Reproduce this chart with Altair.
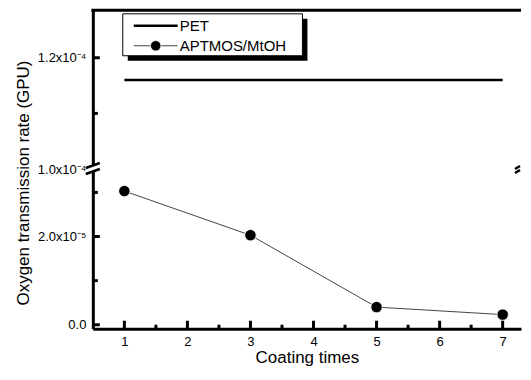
import altair as alt
import pandas as pd

# ---- data ----
coating_times = [1, 3, 5, 7]
aptmos_otr = [3.03e-5, 2.03e-5, 0.40e-5, 0.23e-5]
pet_x = [1, 7]
pet_otr = [1.16e-4, 1.16e-4]
series_names = ["PET", "APTMOS/MtOH"]

x_major = [1, 2, 3, 4, 5, 6, 7]
x_minor = [1.5, 2.5, 3.5, 4.5, 5.5, 6.5]
low_major = [0.0, 2.0e-5]
low_minor = [1.0e-5, 3.0e-5]
low_labels = ["0.0", "2.0x10⁻⁵"]
up_major = [1.0e-4, 1.2e-4]
up_tick_major = [1.2e-4]
up_minor = [1.1e-4]
up_labels = ["1.0x10⁻⁴", "1.2x10⁻⁴"]

x_domain = [0.5, 7.291]
low_domain = [-0.09e-5, 3.53e-5]
up_domain = [1.0e-4, 1.2852e-4]

W = 429
H_UP = 159
H_LOW = 160
FONT = "Liberation Sans"


def lab_expr(vals, labels):
    e = "''"
    for v, l in reversed(list(zip(vals, labels))):
        e = f"abs(datum.value - ({v!r})) < 1e-12 ? '{l}' : ({e})"
    return e


x_scale = alt.Scale(domain=x_domain, nice=False, zero=False)
up_scale = alt.Scale(domain=up_domain, nice=False, zero=False)
low_scale = alt.Scale(domain=low_domain, nice=False, zero=False)

up_y_axis = alt.Axis(values=up_major, labelExpr=lab_expr(up_major, up_labels),
                     ticks=False, domainWidth=3, labelPadding=7, title=None,
                     grid=False, labelFontSize=13, zindex=0)
low_x_axis = alt.Axis(values=x_major, format="d", ticks=False, domainWidth=3,
                      labelPadding=7, labelFontSize=13, labelFlush=False,
                      title="Coating times", titleFontSize=17, titlePadding=1,
                      grid=False, zindex=0)
low_y_axis = alt.Axis(values=low_major, labelExpr=lab_expr(low_major, low_labels),
                      ticks=False, domainWidth=3, labelPadding=7, labelFontSize=13,
                      grid=False, zindex=0,
                      title="Oxygen transmission rate (GPU)", titleFontSize=17,
                      titleX=-69, titleY=13.5, titleAngle=270, titleAlign="center",
                      titleBaseline="middle")


def ux(field):
    return alt.X(field, scale=x_scale, axis=None)


def uy(field):
    return alt.Y(field, scale=up_scale, axis=up_y_axis)


def lx(field):
    return alt.X(field, scale=x_scale, axis=low_x_axis)


def ly(field):
    return alt.Y(field, scale=low_scale, axis=low_y_axis)


one = pd.DataFrame({"k": [0]})

# ---- upper panel ----
pet_df = pd.DataFrame({"t": pet_x, "otr": pet_otr})
pet_line = alt.Chart(pet_df).mark_line(color="black", strokeWidth=2.5).encode(
    x=ux("t:Q"), y=uy("otr:Q"))

top_frame = alt.Chart(one).mark_rule(color="black", strokeWidth=3).encode(
    x=alt.value(-1.5), x2=alt.value(W), y=alt.value(0))

up_ticks_major = alt.Chart(pd.DataFrame({"otr": up_tick_major})).mark_rule(
    color="black", strokeWidth=3).encode(y=uy("otr:Q"), x=alt.value(0), x2=alt.value(7))
up_ticks_minor = alt.Chart(pd.DataFrame({"otr": up_minor})).mark_rule(
    color="black", strokeWidth=3).encode(y=uy("otr:Q"), x=alt.value(0), x2=alt.value(5))

LY = -2.5
leg_shadow = alt.Chart(one).mark_rect(color="black").encode(
    x=alt.value(35), x2=alt.value(215), y=alt.value(11 + LY), y2=alt.value(53 + LY))
leg_box = alt.Chart(one).mark_rect(fill="white", stroke="black", strokeWidth=1).encode(
    x=alt.value(30), x2=alt.value(210), y=alt.value(6 + LY), y2=alt.value(48 + LY))
leg_l1 = alt.Chart(one).mark_rule(color="black", strokeWidth=2.5).encode(
    x=alt.value(41), x2=alt.value(85), y=alt.value(18 + LY))
leg_l2 = alt.Chart(one).mark_rule(color="#444444", strokeWidth=1).encode(
    x=alt.value(41), x2=alt.value(85), y=alt.value(38 + LY))
leg_pt = alt.Chart(one).mark_circle(fill="black", opacity=1, size=110, stroke="white",
                                    strokeWidth=0.8).encode(x=alt.value(63), y=alt.value(38 + LY))
leg_t1 = alt.Chart(one).mark_text(align="left", baseline="middle", fontSize=15,
                                  color="black", font=FONT).encode(
    x=alt.value(87), y=alt.value(18 + LY), text=alt.value(series_names[0]))
leg_t2 = alt.Chart(one).mark_text(align="left", baseline="middle", fontSize=15,
                                  color="black", font=FONT).encode(
    x=alt.value(87), y=alt.value(38 + LY), text=alt.value(series_names[1]))

upper = alt.layer(top_frame, pet_line, up_ticks_major, up_ticks_minor, leg_shadow, leg_box,
                  leg_l1, leg_l2, leg_pt, leg_t1, leg_t2).properties(width=W, height=H_UP)

# ---- lower panel ----
ap_df = pd.DataFrame({"t": coating_times, "otr": aptmos_otr})
ap_line = alt.Chart(ap_df).mark_line(color="#444444", strokeWidth=1).encode(
    x=lx("t:Q"), y=ly("otr:Q"))
ap_pts = alt.Chart(ap_df).mark_circle(fill="black", opacity=1, size=130, stroke="white",
                                      strokeWidth=0.8).encode(x=lx("t:Q"), y=ly("otr:Q"))

ly_major = alt.Chart(pd.DataFrame({"otr": low_major})).mark_rule(
    color="black", strokeWidth=3).encode(y=ly("otr:Q"), x=alt.value(0), x2=alt.value(7))
ly_minor = alt.Chart(pd.DataFrame({"otr": low_minor})).mark_rule(
    color="black", strokeWidth=3).encode(y=ly("otr:Q"), x=alt.value(0), x2=alt.value(5))
lx_major = alt.Chart(pd.DataFrame({"t": x_major})).mark_rule(
    color="black", strokeWidth=3).encode(x=lx("t:Q"), y=alt.value(H_LOW), y2=alt.value(H_LOW - 8))
lx_minor = alt.Chart(pd.DataFrame({"t": x_minor})).mark_rule(
    color="black", strokeWidth=3).encode(x=lx("t:Q"), y=alt.value(H_LOW), y2=alt.value(H_LOW - 4))

brk_white = alt.Chart(one).mark_rule(color="white", strokeWidth=6).encode(
    x=alt.value(0), y=alt.value(-3), y2=alt.value(3))
brk_a = alt.Chart(one).mark_rule(color="black", strokeWidth=2.5).encode(
    x=alt.value(-7), x2=alt.value(7), y=alt.value(-1), y2=alt.value(-6))
brk_b = alt.Chart(one).mark_rule(color="black", strokeWidth=2.5).encode(
    x=alt.value(-7), x2=alt.value(7), y=alt.value(5), y2=alt.value(0))
brk_c = alt.Chart(one).mark_rule(color="black", strokeWidth=2.5).encode(
    x=alt.value(W - 6), x2=alt.value(W - 1), y=alt.value(0), y2=alt.value(-3))
brk_d = alt.Chart(one).mark_rule(color="black", strokeWidth=2.5).encode(
    x=alt.value(W - 6), x2=alt.value(W - 1), y=alt.value(4), y2=alt.value(1))

lower = alt.layer(ap_line, ap_pts, ly_major, ly_minor, lx_major, lx_minor,
                  brk_white, brk_a, brk_b, brk_c, brk_d).properties(width=W, height=H_LOW)

chart = alt.vconcat(upper, lower, spacing=0, bounds="flush").properties(
    padding={"left": 6, "top": 0, "right": 0, "bottom": 0}
).configure(font=FONT).configure_view(
    stroke="transparent", strokeWidth=0
).configure_axis(
    labelFont=FONT, titleFont=FONT, labelColor="black", titleColor="black",
    domainColor="black", titleFontWeight="normal"
)

chart.save("out.html", embed_options={"renderer": "svg", "actions": False})
